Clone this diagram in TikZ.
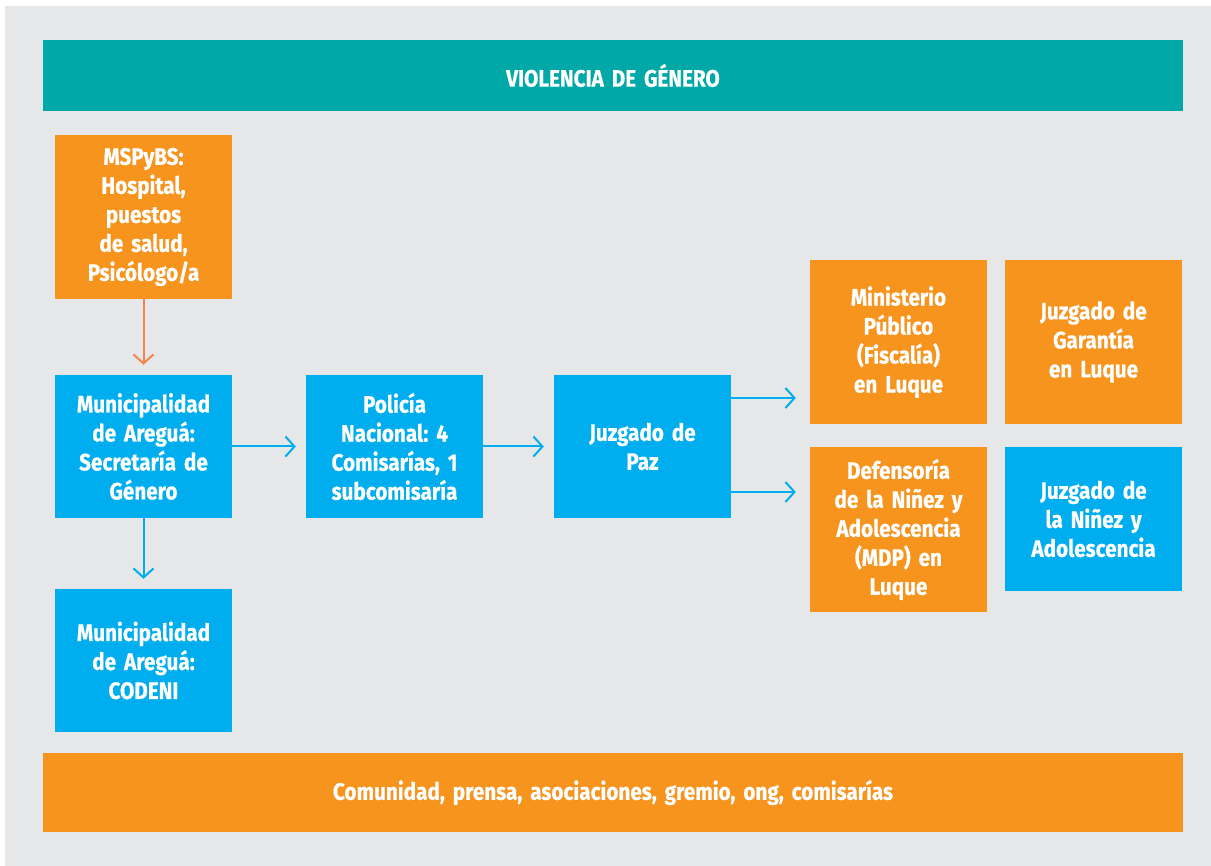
\documentclass[tikz,border=0pt]{standalone}
\usepackage{fontspec}
\setmainfont{Fira Sans}[FakeStretch=0.87, BoldFeatures={FakeBold=0.6}]
\usetikzlibrary{arrows.meta}
\definecolor{vgteal}{HTML}{00A8A8}
\definecolor{vgorange}{HTML}{F7941E}
\definecolor{vgblue}{HTML}{00AEEF}
\definecolor{vgsalmon}{HTML}{F2844F}
\definecolor{vggray}{HTML}{E6E7E8}
\begin{document}
\begin{tikzpicture}[
     x=1pt, y=-1pt,
     % define styles
     box/.style={
         minimum width=177pt,
         minimum height=143pt,
         inner sep=0pt,
         text width=176pt,
         align=center,
         text=white,
         font=\bfseries\frenchspacing\fontsize{23.8}{29}\selectfont
     },
     blue box/.style={box, fill=vgblue},
     orange box/.style={box, fill=vgorange},
     tall/.style={minimum height=164pt},
     bar/.style={box, minimum width=1140pt, text width=1120pt},
     link/.style={->, line width=2pt, draw=vgblue, shorten >=10pt},
     >={Straight Barb[length=9pt,width=20pt,line width=2pt]}
]
% page and background
\useasboundingbox (0,0) rectangle (1211,866);
\fill[vggray] (5,6) rectangle (1211,866);

% heading and bottom bar
\node[bar, fill=vgteal, minimum height=71pt] (head) at (613,75.5) {VIOLENCIA DE GÉNERO};
\node[bar, fill=vgorange, minimum height=79pt] (base) at (613,792.5) {Comunidad, prensa, asociaciones, gremio, ong, comisarías};

% left column
\node[orange box, tall] (msp) at (143.5,217) {MSPyBS:\\Hospital,\\puestos\\de salud,\\Psicólogo/a};
\node[blue box] (muni) at (143.5,446.5) {Municipalidad\\de Areguá:\\Secretaría de\\Género};
\node[blue box] (codeni) at (143.5,660.5) {Municipalidad\\de Areguá:\\CODENI};

% middle row
\node[blue box] (pol) at (394.5,446.5) {Policía\\Nacional: 4\\Comisarías, 1\\subcomisaría};
\node[blue box] (paz) at (642.5,446.5) {Juzgado de\\Paz};

% right block
\node[orange box, tall] (fisc) at (898.5,342) {Ministerio\\Público\\(Fiscalía)\\en Luque};
\node[orange box, tall] (garan) at (1093.5,342) {Juzgado de\\Garantía\\en Luque};
\node[orange box, minimum height=165pt] (mdp) at (898.5,529.5) {Defensoría\\de la Niñez y\\Adolescencia\\(MDP) en\\Luque};
\node[blue box, minimum height=144pt] (jna) at (1093.5,519) {Juzgado de\\la Niñez y\\Adolescencia};

% connectors
\draw[link, draw=vgsalmon] (msp) -- (muni);
\draw[link] (muni) -- (codeni);
\draw[link] (muni) -- (pol);
\draw[link] (pol) -- (paz);
\draw[link, shorten >=14pt] (paz.east |- 0,398) -- (fisc.west |- 0,398);
\draw[link, shorten >=14pt] (paz.east |- 0,492) -- (mdp.west |- 0,492);
\end{tikzpicture}
\end{document}
